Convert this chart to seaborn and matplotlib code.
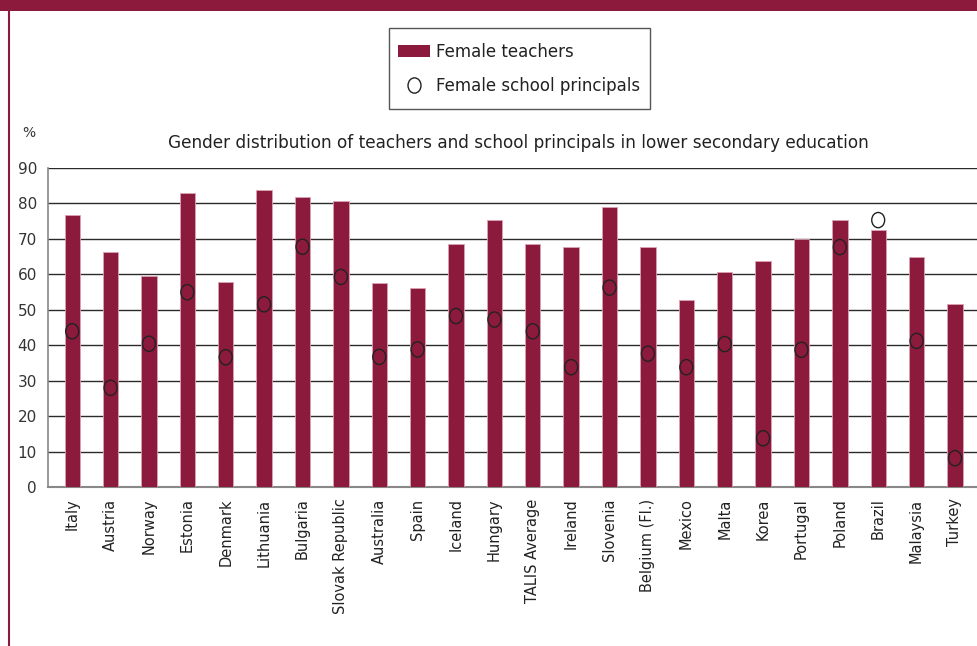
import matplotlib
matplotlib.use("Agg")
import matplotlib.pyplot as plt
import seaborn as sns
import pandas as pd
from matplotlib.patches import Patch, Rectangle
from matplotlib.lines import Line2D
from matplotlib.path import Path
from matplotlib.transforms import Affine2D

countries = ["Italy", "Austria", "Norway", "Estonia", "Denmark", "Lithuania", "Bulgaria",
             "Slovak Republic", "Australia", "Spain", "Iceland", "Hungary", "TALIS Average",
             "Ireland", "Slovenia", "Belgium (Fl.)", "Mexico", "Malta", "Korea", "Portugal",
             "Poland", "Brazil", "Malaysia", "Turkey"]
female_teachers = [76.5, 66.3, 59.4, 82.7, 57.7, 83.7, 81.6, 80.6, 57.6, 56.2, 68.6, 75.3,
                   68.6, 67.7, 79.0, 67.7, 52.7, 60.7, 63.6, 70.0, 75.2, 72.4, 64.9, 51.6]
female_principals = [43.9, 28.0, 40.4, 54.9, 36.6, 51.5, 67.7, 59.2, 36.7, 38.8, 48.2, 47.2,
                     43.9, 33.8, 56.2, 37.6, 33.8, 40.3, 13.8, 38.7, 67.6, 75.2, 41.2, 8.2]
yticks = [0, 10, 20, 30, 40, 50, 60, 70, 80, 90]

df = pd.DataFrame({"country": countries, "teachers": female_teachers,
                   "principals": female_principals})

BAR = "#8C1A3C"
sns.set_theme(style="white")
plt.rcParams["font.family"] = ["DejaVu Sans"]

ellipse = Path.unit_circle().transformed(Affine2D().scale(0.85, 1.0))

fig = plt.figure(figsize=(9.78, 6.46), dpi=100)
ax = fig.add_axes([48/978, 1-487.3/646, 1-48/978, (487.3-167.5)/646])

sns.barplot(data=df, x="country", y="teachers", color=BAR, width=0.4, saturation=1,
            edgecolor="#d9a3b3", linewidth=0.6, ax=ax, zorder=3)
sns.scatterplot(data=df, x="country", y="principals", marker=ellipse, s=120,
                facecolor="none", edgecolor="#222222", linewidth=1.0, ax=ax, zorder=4)

ax.set_ylim(0, 90)
ax.set_xlim(-0.63, len(countries) - 1 + 0.6)
ax.set_yticks(yticks)
ax.set_yticklabels([str(v) for v in yticks], fontsize=11, color="#333333")
ax.yaxis.grid(True, color="#2a2a2a", linewidth=1.0, zorder=0)
ax.set_axisbelow(True)
ax.tick_params(axis="both", length=0, pad=8)
ax.tick_params(axis="x", pad=8)
ax.set_xticks(range(len(countries)))
ax.set_xticklabels(countries, rotation=90, fontsize=10.5, color="#222222", va="top")
ax.set_xlabel("")
ax.set_ylabel("")
for s in ["top", "right"]:
    ax.spines[s].set_visible(False)
ax.spines["left"].set_color("#888888")
ax.spines["bottom"].set_color("#888888")
ax.spines["left"].set_linewidth(1.2)
ax.spines["bottom"].set_linewidth(1.5)

fig.text(168/978, 1-143/646, "Gender distribution of teachers and school principals in lower secondary education",
         fontsize=12.15, color="#222222", va="center", ha="left")
fig.text(22/978, 1-133/646, "%", fontsize=10, color="#333333", va="center", ha="left")

# top banner and left rule
fig.patches.append(Rectangle((0, 1-11/646), 1, 11/646, transform=fig.transFigure,
                             facecolor=BAR, edgecolor="none", zorder=5))
fig.lines.append(Line2D([9/978, 9/978], [0, 1-11/646], transform=fig.transFigure,
                        color=BAR, linewidth=1.5))

# legend frame drawn manually
fig.patches.append(Rectangle((389/978, 1-109/646), (650-389)/978, (109-28)/646,
                             transform=fig.transFigure, facecolor="white",
                             edgecolor="#555555", linewidth=1.0, zorder=1))

handles = [Patch(facecolor=BAR, edgecolor="none", label="Female teachers"),
           Line2D([], [], marker=ellipse, linestyle="none", markersize=11, markerfacecolor="none",
                  markeredgecolor="#222222", markeredgewidth=1.0, label="Female school principals")]
leg = fig.legend(handles=handles, loc="upper left", bbox_to_anchor=(398/978, 1-43/646),
                 fontsize=12, frameon=False,
                 handlelength=1.9, handletextpad=0.4, labelspacing=0.95, borderpad=0,
                 borderaxespad=0)
for t in leg.get_texts():
    t.set_color("#222222")

fig.savefig("out.png", dpi=100, facecolor="white")
